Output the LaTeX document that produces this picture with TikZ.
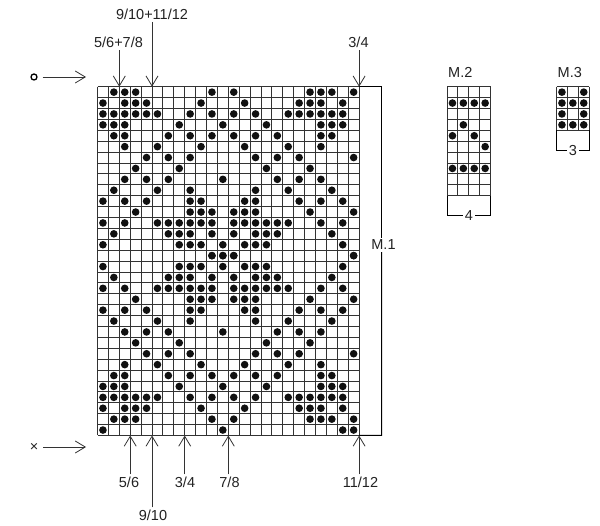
\documentclass[tikz,border=0pt]{standalone}
\usepackage{fontspec}
\setmainfont{Liberation Sans}
\usetikzlibrary{arrows.meta, positioning, calc}
\definecolor{gridColor}{HTML}{333333}
\definecolor{dotColor}{HTML}{111111}
\definecolor{textColor}{HTML}{222222}

\begin{document}
\begin{tikzpicture}[
    x=1pt, y=-1pt,
    % Chart Styles
    gridLine/.style={
        draw=gridColor,
        line width=0.9pt
    },
    dotMark/.style={
        fill=dotColor
    },
    % Line Styles
    pointer/.style={
        draw=gridColor,
        line width=0.8pt,
        -{Straight Barb[length=10pt, width=12pt]}
    },
    bracketLine/.style={
        draw=black,
        line width=1pt
    },
    % Text Styles
    markText/.style={
        font=\fontsize{14.5}{16}\selectfont,
        text=textColor,
        inner sep=2pt
    }
]

    \useasboundingbox (0,0) rectangle (600,526);

    % --- CHART M.1 (24 x 32) ---
    \begin{scope}[shift={(97.5,86.7)}, x=10.9pt, y=-10.9pt]
        \foreach \i in {0,...,24}
            \draw[gridLine] (\i,0) -- (\i,32);
        \foreach \j in {0,...,32}
            \draw[gridLine] (0,\j) -- (24,\j);

        % rows 1-16, mirrored onto rows 31-16
        \foreach \r/\cols in {
            1/{2,3,4,11,13,20,21,22,24},
            2/{1,3,4,5,10,14,19,20,21,23},
            3/{1,2,3,4,5,6,9,11,13,15,18,19,20,21,22,23},
            4/{1,2,3,8,12,16,21,22,23},
            5/{2,3,7,9,11,13,15,17,21,22},
            6/{3,6,10,14,18,21},
            7/{5,7,9,15,17,19,24},
            8/{4,8,16,20},
            9/{3,5,7,12,17,19,21},
            10/{2,6,9,15,18,22},
            11/{1,3,5,9,10,14,15,19,21,23},
            12/{4,9,10,11,13,14,15,20,24},
            13/{1,3,6,7,8,9,10,11,13,14,15,16,17,18,21,23},
            14/{2,7,8,9,11,13,15,16,17,22},
            15/{1,8,9,10,12,14,15,16,23},
            16/{11,12,13,24}}{
            \foreach \c in \cols {
                \fill[dotMark] (\c-0.5,\r-0.5) circle (0.35);
                \fill[dotMark] (\c-0.5,31.5-\r) circle (0.35);
            }
        }
        % last row
        \foreach \c in {1,12,23,24}
            \fill[dotMark] (\c-0.5,31.5) circle (0.35);

        \coordinate (m1NE) at (24,0);
        \coordinate (m1SE) at (24,32);
    \end{scope}

    % --- CHART M.2 (4 x 10) ---
    \begin{scope}[shift={(447,86.7)}, x=10.9pt, y=-10.9pt]
        \foreach \i in {0,...,4}
            \draw[gridLine] (\i,0) -- (\i,10);
        \foreach \j in {0,...,10}
            \draw[gridLine] (0,\j) -- (4,\j);
        \foreach \c/\r in {1/2,2/2,3/2,4/2,2/4,1/5,3/5,4/6,1/8,2/8,3/8,4/8}
            \fill[dotMark] (\c-0.5,\r-0.5) circle (0.35);
        \coordinate (m2SW) at (0,10);
        \coordinate (m2SE) at (4,10);
    \end{scope}

    % --- CHART M.3 (3 x 4) ---
    \begin{scope}[shift={(556.5,86.7)}, x=10.9pt, y=-10.9pt]
        \foreach \i in {0,...,3}
            \draw[gridLine] (\i,0) -- (\i,4);
        \foreach \j in {0,...,4}
            \draw[gridLine] (0,\j) -- (3,\j);
        \foreach \c/\r in {1/1,3/1,1/2,2/2,3/2,1/3,3/3,1/4,2/4,3/4}
            \fill[dotMark] (\c-0.5,\r-0.5) circle (0.35);
        \coordinate (m3SW) at (0,4);
        \coordinate (m3SE) at (3,4);
    \end{scope}

    % --- TITLES & BRACKETS ---
    \node[markText, anchor=base west] (titleM2) at (446,78) {M.2};
    \node[markText, anchor=base west] (titleM3) at (555.5,78) {M.3};

    \node[markText] (sizeM1) at (383.5,245) {M.1};
    \coordinate (m1BarTop) at (381.5,86.7);
    \coordinate (m1BarBot) at (381.5,435.5);
    \draw[bracketLine] (m1NE) -- (m1BarTop) -- (m1BarTop |- sizeM1.north);
    \draw[bracketLine] (m1BarBot |- sizeM1.south) -- (m1BarBot) -- (m1SE);

    \node[markText] (sizeM2) at (468.8,216) {4};
    \draw[bracketLine] (m2SW) -- (m2SW |- sizeM2) -- (sizeM2.west);
    \draw[bracketLine] (m2SE) -- (m2SE |- sizeM2) -- (sizeM2.east);

    \node[markText] (sizeM3) at (572.8,151) {3};
    \draw[bracketLine] (m3SW) -- (m3SW |- sizeM3) -- (sizeM3.west);
    \draw[bracketLine] (m3SE) -- (m3SE |- sizeM3) -- (sizeM3.east);

    % --- ROW START MARKERS ---
    \node[draw=black, circle, line width=1.3pt, minimum size=6pt, inner sep=0pt] (roundStart) at (34,77) {};
    \coordinate (roundTip) at (86,77);
    \draw[pointer, shorten <=5pt] (roundStart.east) -- (roundTip);

    \node[markText, inner sep=1pt] (crossStart) at (34,447) {×};
    \coordinate (crossTip) at (86,447);
    \draw[pointer, shorten <=4pt] (crossStart.east) -- (crossTip);

    % --- SIZE POINTERS (TOP) ---
    \node[markText, anchor=base] (topSixEight) at (118.5,48) {5/6+7/8};
    \node[markText, anchor=base] (topTenTwelve) at (152,19.5) {9/10+11/12};
    \node[markText, anchor=base] (topFour) at (358.5,48) {3/4};

    \coordinate (tipSixEight) at (119.3,86.7);
    \coordinate (tipTenTwelve) at (152,86.7);
    \coordinate (tipTopFour) at (359.1,86.7);

    \draw[pointer] (topSixEight.south -| tipSixEight) -- (tipSixEight);
    \draw[pointer] (topTenTwelve.south -| tipTenTwelve) -- (tipTenTwelve);
    \draw[pointer] (topFour.south -| tipTopFour) -- (tipTopFour);

    % --- SIZE POINTERS (BOTTOM) ---
    \node[markText, anchor=base] (botSix) at (129,487) {5/6};
    \node[markText, anchor=base] (botTen) at (153,520) {9/10};
    \node[markText, anchor=base] (botFour) at (185,487) {3/4};
    \node[markText, anchor=base] (botEight) at (229.5,487) {7/8};
    \node[markText, anchor=base] (botTwelve) at (360.5,487) {11/12};

    \coordinate (tipSix) at (130.2,435.5);
    \coordinate (tipTen) at (152,435.5);
    \coordinate (tipFour) at (184.7,435.5);
    \coordinate (tipEight) at (228.3,435.5);
    \coordinate (tipTwelve) at (359.1,435.5);

    \draw[pointer] (botSix.north -| tipSix) -- (tipSix);
    \draw[pointer] (botTen.north -| tipTen) -- (tipTen);
    \draw[pointer] (botFour.north -| tipFour) -- (tipFour);
    \draw[pointer] (botEight.north -| tipEight) -- (tipEight);
    \draw[pointer] (botTwelve.north -| tipTwelve) -- (tipTwelve);

\end{tikzpicture}
\end{document}
